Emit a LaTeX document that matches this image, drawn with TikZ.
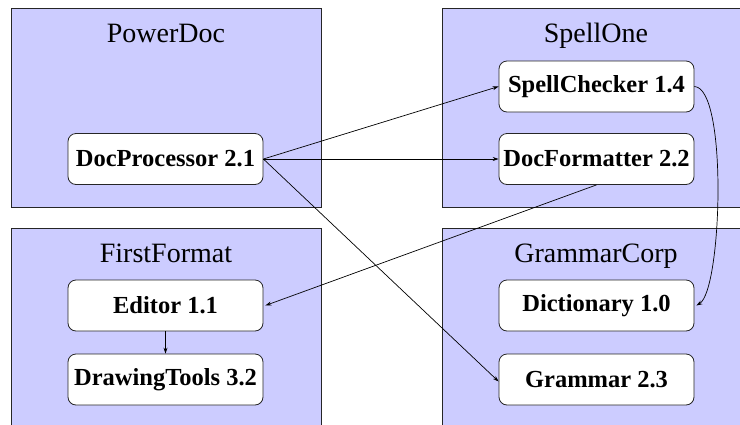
\documentclass[tikz,border=0pt]{standalone}
\usepackage{fontspec}
\setmainfont{Liberation Serif}
\usetikzlibrary{arrows.meta}
\definecolor{pkgfill}{HTML}{CCCCFF}
\tikzset{
  pkg/.style={draw=black!85, line width=0.9pt, fill=pkgfill},
  pkgtitle/.style={font=\fontsize{28}{30}\selectfont, anchor=base, inner sep=0pt},
  comp/.style={draw=black!85, line width=0.8pt, fill=white, rounded corners=8pt,
    minimum width=195pt, minimum height=51pt, inner sep=0pt,
    font=\bfseries\fontsize{24.5}{26}\selectfont},
  dep/.style={-{Stealth[length=6pt,width=4pt]}, line width=0.7pt, black}
}
\begin{document}
\begin{tikzpicture}[x=1pt,y=-1pt]
\useasboundingbox (0,0) rectangle (740,424);
\clip (0,0) rectangle (740,424);
% packages
\draw[pkg] (11,8) rectangle (321,207);
\draw[pkg] (442,8) rectangle (760,207);
\draw[pkg] (11,228) rectangle (321,440);
\draw[pkg] (442,228) rectangle (760,440);
\node[pkgtitle] (tPD) at (166,42) {PowerDoc};
\node[pkgtitle] (tSO) at (596,42) {SpellOne};
\node[pkgtitle] (tFF) at (166,262) {FirstFormat};
\node[pkgtitle] (tGC) at (596,262) {GrammarCorp};
% components
\node[comp] (dp) at (165.5,159) {DocProcessor 2.1};
\node[comp] (sc) at (596.5,86.5) {SpellChecker 1.4};
\node[comp] (df) at (596.5,159) {DocFormatter 2.2};
\node[comp] (ed) at (165.5,305.5) {Editor 1.1};
\node[comp] (dt) at (165.5,379.5) {DrawingTools 3.2};
\node[comp] (di) at (596.5,305.5) {Dictionary 1.0};
\node[comp] (gr) at (596.5,379.5) {Grammar 2.3};
% dependencies
\draw[dep] (dp.east) -- (sc.west);
\draw[dep] (dp.east) -- (df.west);
\draw[dep] (dp.east) -- ([yshift=-2pt]gr.west);
\draw[dep] (df.south) -- ([xshift=2pt]ed.east);
\draw[dep] (ed.south) -- (dt.north);
\draw[dep] (sc.east) .. controls (728,88) and (722,290) .. ([xshift=2pt]di.east);
\end{tikzpicture}
\end{document}
